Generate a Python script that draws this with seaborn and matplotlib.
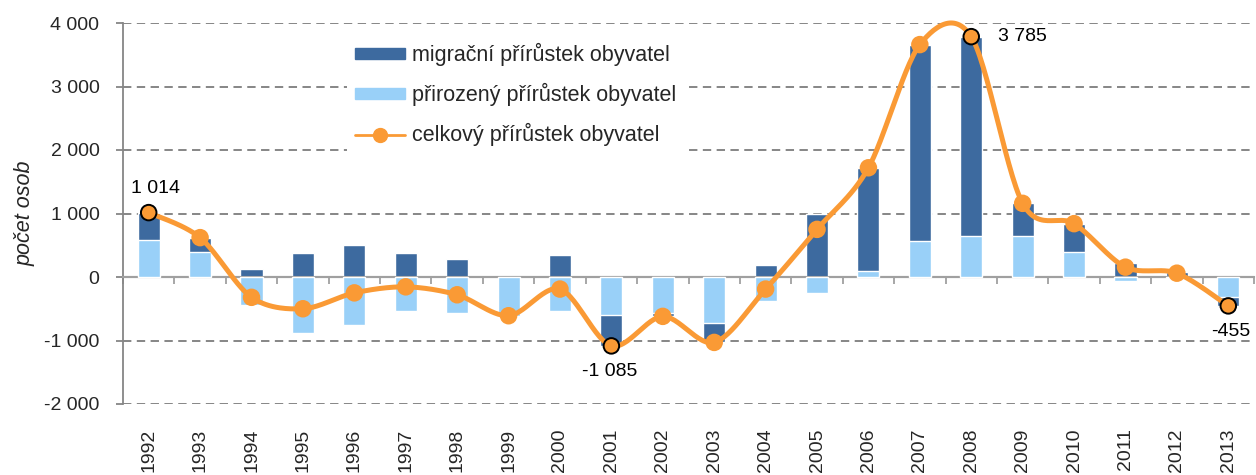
import matplotlib
matplotlib.use("Agg")
import matplotlib.pyplot as plt
import numpy as np
import pandas as pd
import seaborn as sns
from matplotlib.lines import Line2D
from matplotlib.patches import Patch

sns.set_theme(style="white")
plt.rcParams["font.family"] = ["Liberation Sans", "DejaVu Sans"]

dark, light, orange, grey = "#3D6A9F", "#99D0F8", "#FA9A35", "#868686"

years = [str(y) for y in range(1992, 2014)]
natural = [590, 400, -440, -875, -750, -530, -560, -620, -530, -595, -560, -720,
           -375, -250, 90, 560, 650, 650, 400, -60, -20, -310]
migration = [424, 220, 120, 375, 500, 375, 280, 10, 340, -490, -60, -310,
             185, 1000, 1630, 3100, 3135, 510, 440, 215, 80, -145]
total = [1014, 620, -320, -500, -250, -155, -280, -610, -190, -1085, -620, -1030,
         -190, 750, 1720, 3660, 3785, 1160, 840, 155, 60, -455]
labels = {0: "1 014", 9: "-1 085", 16: "3 785", 21: "-455"}
label_offsets = {0: (5, 11, "center", "bottom"), 9: (-1, -12, "center", "top"),
                 16: (19, 0, "left", "center"), 21: (2, -12, "center", "top")}

df = pd.DataFrame({"year": years, "natural": natural, "migration": migration, "total": total})
# dark bar reaches the stacked end when both parts have the same sign
same = np.sign(df["natural"]) == np.sign(df["migration"])
df["dark_h"] = np.where(same, df["natural"] + df["migration"], df["migration"])

fig = plt.figure(figsize=(12.56, 4.75), dpi=100)
ax = fig.add_axes([123 / 1256, 1 - 404 / 475, (1254 - 123) / 1256, (404 - 23) / 475])

sns.barplot(data=df, x="year", y="dark_h", color=dark, saturation=1, width=0.43, ax=ax, zorder=2)
sns.barplot(data=df, x="year", y="natural", color=light, saturation=1, width=0.43, ax=ax, zorder=3)

# smoothed line like the spreadsheet's (cubic Bezier through the points)
xs = np.arange(len(years), dtype=float)
ys = df["total"].to_numpy(dtype=float)
px = np.concatenate([[xs[0]], xs, [xs[-1]]])
py = np.concatenate([[ys[0]], ys, [ys[-1]]])
t = np.linspace(0, 1, 30)[:, None]
k = 0.155
cx, cy = [], []
for i in range(len(xs) - 1):
    p0 = np.array([px[i + 1], py[i + 1]])
    p3 = np.array([px[i + 2], py[i + 2]])
    c1 = p0 + (p3 - np.array([px[i], py[i]])) * k
    c2 = p3 - (np.array([px[i + 3], py[i + 3]]) - p0) * k
    seg = (1 - t) ** 3 * p0 + 3 * (1 - t) ** 2 * t * c1 + 3 * (1 - t) * t ** 2 * c2 + t ** 3 * p3
    cx.extend(seg[:, 0])
    cy.extend(seg[:, 1])
ax.plot(cx, cy, color=orange, lw=3.6, zorder=4, clip_on=False, solid_capstyle="round")

edges = ["black" if i in labels else orange for i in range(len(years))]
ax.scatter(xs, ys, s=125, color=orange, edgecolors=edges, linewidths=1.4, zorder=5, clip_on=False)
for i, txt in labels.items():
    dx, dy, ha, va = label_offsets[i]
    ax.annotate(txt, (xs[i], ys[i]), xytext=(dx, dy), textcoords="offset points",
                ha=ha, va=va, fontsize=14, color="black")

ax.set_ylim(-2000, 4000)
ax.set_xlim(-0.5, len(years) - 0.5)
ax.set_yticks(range(-2000, 4001, 1000))
ax.set_yticklabels([f"{v:,}".replace(",", " ") for v in range(-2000, 4001, 1000)], fontsize=14)
ax.yaxis.grid(True, linestyle=(0, (4.3, 2.8)), color=grey, lw=1.4, zorder=0)
ax.set_axisbelow(True)
ax.axhline(0, color="#A0A0A0", lw=1.5, zorder=1)

ax.spines[["top", "right"]].set_visible(False)
ax.spines["left"].set_color(grey)
ax.spines["left"].set_linewidth(1.3)
ax.spines["bottom"].set_position(("data", 0))
ax.spines["bottom"].set_color("#A0A0A0")
ax.spines["bottom"].set_linewidth(1.5)
ax.tick_params(axis="y", which="major", left=True, length=5, width=1.3, color=grey, pad=12)

ax.set_xticks(xs)
ax.set_xticklabels(years, rotation=90, fontsize=14, va="top")
ax.set_xticks(np.arange(-0.5, len(years), 1.0), minor=True)
ax.tick_params(axis="x", which="major", length=0, pad=109)
ax.tick_params(axis="x", which="minor", bottom=True, length=5, width=1.3, color="#A0A0A0")
ax.set_xlabel("")
ax.set_ylabel("počet osob", fontsize=15.5, style="italic", labelpad=6)

handles = [Patch(color=dark), Patch(color=light),
           Line2D([], [], color=orange, lw=2, marker="o", markersize=10)]
names = ["migrační přírůstek obyvatel", "přirozený přírůstek obyvatel", "celkový přírůstek obyvatel"]
leg = fig.legend(handles, names, loc="upper left", bbox_to_anchor=(336 / 1256, 1 - 24 / 475),
                 fontsize=15.5, handlelength=2.3, handleheight=0.4, handletextpad=0.35,
                 labelspacing=0.78, borderpad=0.4, frameon=True, fancybox=False)
leg.get_frame().set_facecolor("white")
leg.get_frame().set_edgecolor("none")
leg.get_frame().set_alpha(1)

fig.savefig("out.png", dpi=100)
